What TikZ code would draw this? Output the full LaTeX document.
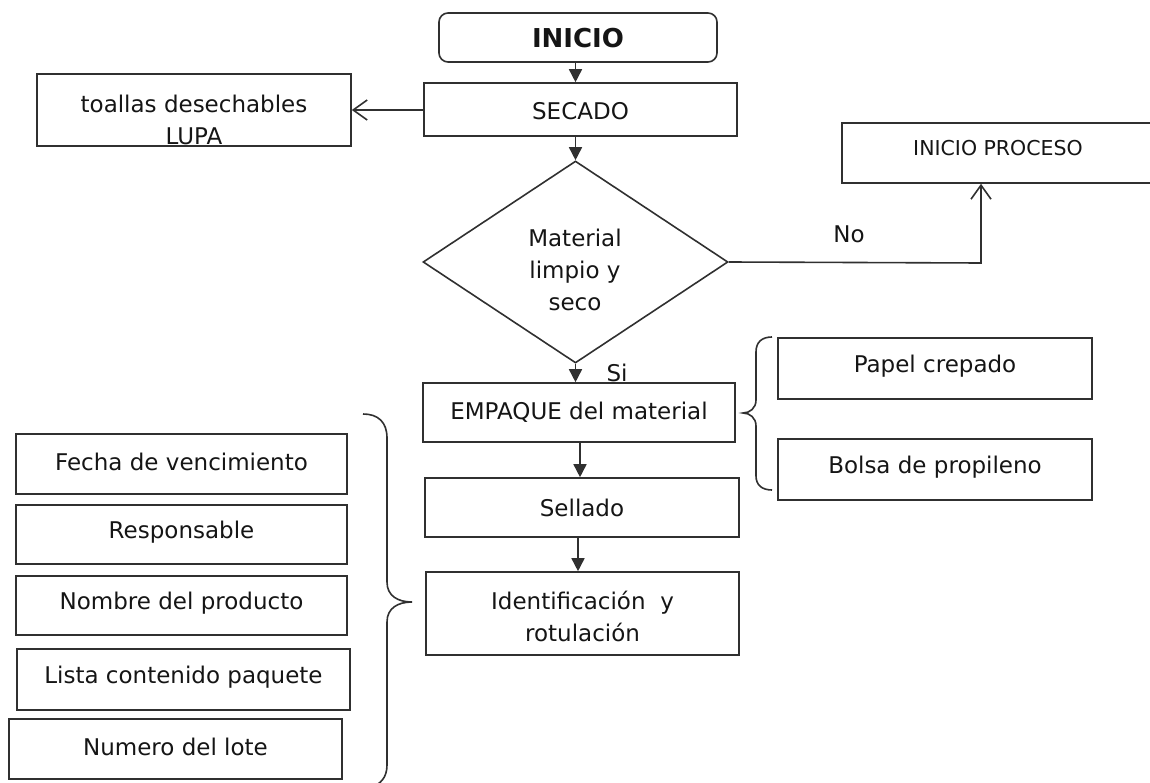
\documentclass[tikz,border=0pt]{standalone}
\usepackage{fontspec}
\setmainfont{DejaVu Sans}
\usetikzlibrary{arrows.meta,shapes.geometric}
\definecolor{ln}{HTML}{303030}
\definecolor{tx}{HTML}{151515}
\begin{document}
\begin{tikzpicture}[x=1pt,y=-1pt,
  every node/.style={font=\fontsize{23}{32}\selectfont,text=tx},
  box/.style={draw=ln,line width=1.6pt,rectangle,inner sep=0pt},
  txt/.style={inner sep=0pt,align=center},
  flow/.style={draw=ln,line width=1.6pt,-{Triangle[length=13pt,width=13pt]}},
  barb/.style={draw=ln,line width=1.6pt,-{Straight Barb[length=14pt,width=20pt,line width=1.6pt]}},
  brc/.style={draw=ln,line width=1.6pt}
  ]
\useasboundingbox (0,0) rectangle (1150,783);
% top flow
\node[box,rounded corners=9pt,minimum width=278,minimum height=49] (inicio) at (578,37.5) {};
\node[txt,font=\fontsize{26}{30}\selectfont\bfseries] (inicioT) at (578,38) {INICIO};
\node[box,minimum width=313,minimum height=53] (secado) at (580.5,109.5) {};
\node[txt] (secadoT) at (580.5,111) {SECADO};
\node[box,minimum width=314,minimum height=72] (toallas) at (194,110) {};
\node[txt] (toallasT) at (194,120) {toallas desechables\\LUPA};
\node[draw=ln,line width=1.6pt,diamond,shape aspect=1.5,inner sep=0pt,minimum width=305,minimum height=202] (dia) at (575.5,262) {};
\node[txt] (diaT) at (575,270) {Material\\limpio y\\seco};
\node[box,minimum width=313,minimum height=60] (proc) at (998.5,153) {};
\node[txt,font=\fontsize{20.5}{24}\selectfont] (procT) at (998,148) {INICIO PROCESO};
\node[txt] (noT) at (849,234) {No};
\node[txt] (siT) at (617,373) {Si};
% main column
\node[box,minimum width=312,minimum height=59] (emp) at (579,412.5) {EMPAQUE del material};
\node[box,minimum width=314,minimum height=59] (sel) at (582,507.5) {Sellado};
\node[box,minimum width=313,minimum height=83] (ide) at (582.5,613.5) {};
\node[txt] (ideT) at (582.5,616) {Identificación\ \ y\\rotulación};
% right boxes
\node[box,minimum width=314,minimum height=61] (papel) at (935,368.5) {};
\node[txt] (papelT) at (935,366) {Papel crepado};
\node[box,minimum width=314,minimum height=61] (bolsa) at (935,469.5) {};
\node[txt] (bolsaT) at (935,467) {Bolsa de propileno};
% left boxes
\node[box,minimum width=331,minimum height=60] (fecha) at (181.5,464) {};
\node[txt] (fechaT) at (181.5,462) {Fecha de vencimiento};
\node[box,minimum width=331,minimum height=59] (resp) at (181.5,534.5) {};
\node[txt] (respT) at (181.5,532) {Responsable};
\node[box,minimum width=331,minimum height=59] (nomb) at (181.5,605.5) {};
\node[txt] (nombT) at (181.5,603) {Nombre del producto};
\node[box,minimum width=333,minimum height=61] (lista) at (183.5,679.5) {};
\node[txt] (listaT) at (183.5,677) {Lista contenido paquete};
\node[box,minimum width=333,minimum height=60] (num) at (175.5,749) {};
\node[txt] (numT) at (175.5,747) {Numero del lote};
% connectors
\draw[flow] (inicio.south -| dia.north) -- (secado.north -| dia.north);
\draw[flow] (secado.south -| dia.north) -- (dia.north);
\draw[barb] (secado.west |- toallas.east) -- (toallas.east);
\coordinate (nocorner) at (981,263);
\draw[barb] (dia.east) -- (nocorner) -- (nocorner |- proc.south);
\draw[flow] (dia.south) -- (dia.south |- emp.north);
\coordinate (c1) at (580,0);
\draw[flow] (emp.south -| c1) -- (sel.north -| c1);
\coordinate (c2) at (578,0);
\draw[flow] (sel.south -| c2) -- (ide.north -| c2);
% small brace
\draw[brc] (772,337) .. controls (762,337) and (756,342) .. (756,352) -- (756,400)
  .. controls (756,408) and (750,413) .. (743,413)
  .. controls (750,413) and (756,418) .. (756,426) -- (756,476)
  .. controls (756,485) and (762,490) .. (772,490);
% big brace
\draw[brc] (363,414) .. controls (378,414) and (387,422) .. (387,438) -- (387,582)
  .. controls (387,596) and (398,602) .. (412,602)
  .. controls (398,602) and (387,608) .. (387,622) -- (387,765)
  .. controls (387,778) and (380,784) .. (372,787);
\end{tikzpicture}
\end{document}
